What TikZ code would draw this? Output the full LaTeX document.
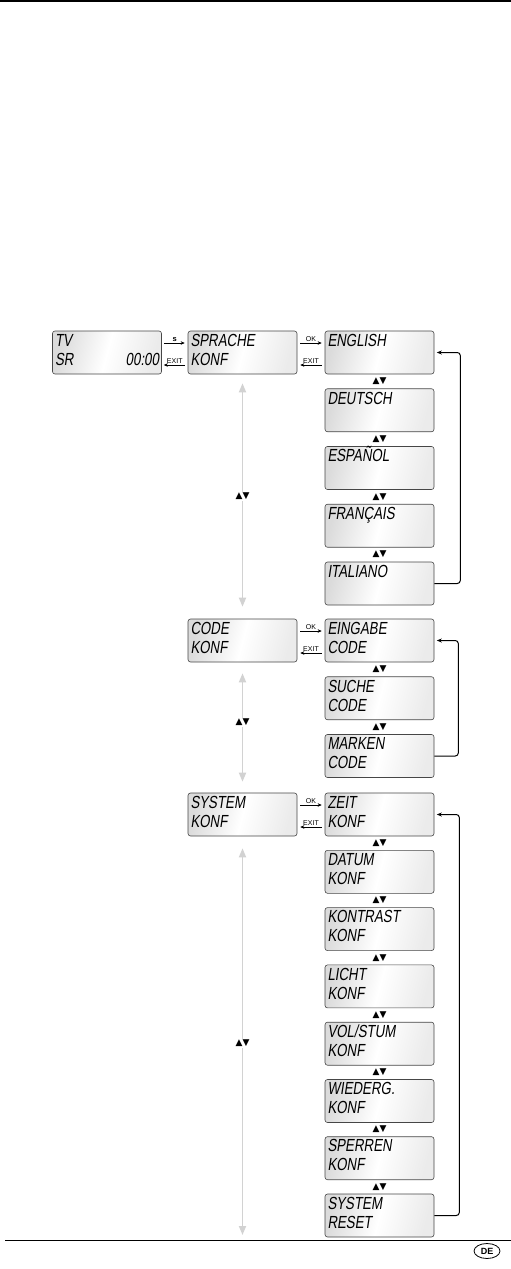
\documentclass[tikz,border=0pt]{standalone}
\usepackage{fontspec}
\usepackage{tikz}
\usetikzlibrary{shapes.geometric, arrows.meta, positioning, calc}
\newfontfamily\lcdfont[FakeStretch=0.76,FakeSlant=0.15]{Liberation Sans}
\newfontfamily\keyfont{Liberation Sans}
\newfontfamily\symfont{DejaVu Sans}

\begin{document}
\begin{tikzpicture}[x=1pt, y=-1pt,
    lcd/.style={rectangle, draw=gray!55!black, line width=0.6pt, rounded corners=2.5pt,
        left color=gray!28, right color=gray!16, middle color=white, shading angle=75,
        minimum width=109pt, minimum height=43pt, inner xsep=2.5pt, inner ysep=0pt,
        text width=104pt, align=left, text height=12.5pt, text depth=25pt,
        font=\lcdfont\fontsize{17.5}{19}\selectfont},
    navarrow/.style={-{Stealth[length=4pt,width=3.5pt]}, line width=0.6pt, draw=black},
    keylabel/.style={font=\keyfont\fontsize{7}{7}\selectfont, inner sep=0.8pt},
    scrollarrow/.style={{Triangle[length=9pt,width=7pt]}-{Triangle[length=9pt,width=7pt]}, line width=1.7pt, draw=gray!35},
    scrollmark/.style={font=\symfont\fontsize{9}{9}\selectfont, fill=white, inner sep=1pt},
    returnarrow/.style={-{Stealth[length=5pt,width=4pt]}, line width=1pt, rounded corners=3pt, shorten >=2.5pt}
]
    \useasboundingbox (0,0) rectangle (511,1269);

    % Page rules
    \draw[line width=2.2pt] (0,1.1) -- (511,1.1);
    \draw[line width=0.8pt] (5,1240) -- (511,1240);
    \node[draw, ellipse, line width=0.8pt, minimum width=26pt, minimum height=15pt, inner sep=0pt,
        font=\keyfont\bfseries\fontsize{9}{9}\selectfont] (lang) at (487,1251) {DE};

    % Start screen and language menu
    \node[lcd] (tv) at (107,352.5) {TV\\SR\hfill 00:00};
    \node[lcd] (sprache) at (242.5,352.5) {SPRACHE\\KONF};
    \node[lcd] (english) at (379.5,352.5) {ENGLISH};
    \node[lcd] (deutsch) at (379.5,410.25) {DEUTSCH};
    \node[lcd] (espanol) at (379.5,468) {ESPAÑOL};
    \node[lcd] (francais) at (379.5,525.75) {FRANÇAIS};
    \node[lcd] (italiano) at (379.5,583.5) {ITALIANO};

    % Code menu
    \node[lcd] (code) at (242.5,640.5) {CODE\\KONF};
    \node[lcd] (eingabe) at (379.5,640.5) {EINGABE\\CODE};
    \node[lcd] (suche) at (379.5,698.25) {SUCHE\\CODE};
    \node[lcd] (marken) at (379.5,756) {MARKEN\\CODE};

    % System menu
    \node[lcd] (system) at (242.5,814.5) {SYSTEM\\KONF};
    \node[lcd] (zeit) at (379.5,814.5) {ZEIT\\KONF};
    \node[lcd] (datum) at (379.5,871.8) {DATUM\\KONF};
    \node[lcd] (kontrast) at (379.5,929.1) {KONTRAST\\KONF};
    \node[lcd] (licht) at (379.5,986.4) {LICHT\\KONF};
    \node[lcd] (volstum) at (379.5,1043.7) {VOL/STUM\\KONF};
    \node[lcd] (wiederg) at (379.5,1101) {WIEDERG.\\KONF};
    \node[lcd] (sperren) at (379.5,1158.2) {SPERREN\\KONF};
    \node[lcd] (reset) at (379.5,1215.5) {SYSTEM\\RESET};
    \coordinate (sysend) at (242.5,1238);

    % Key steps
    \draw[navarrow, shorten <=2pt, shorten >=3pt] ([yshift=9.5pt]tv.east) -- node[keylabel, above, font=\keyfont\bfseries\fontsize{7.5}{7.5}\selectfont] {s} ([yshift=9.5pt]sprache.west);
    \draw[navarrow, shorten <=3pt, shorten >=2pt] ([yshift=-12.5pt]sprache.west) -- node[keylabel, above] {EXIT} ([yshift=-12.5pt]tv.east);
    \draw[navarrow, shorten <=3pt, shorten >=3pt] ([yshift=9.5pt]sprache.east) -- node[keylabel, above] {OK} ([yshift=9.5pt]english.west);
    \draw[navarrow, shorten <=3pt, shorten >=3pt] ([yshift=-12.5pt]english.west) -- node[keylabel, above] {EXIT} ([yshift=-12.5pt]sprache.east);
    \draw[navarrow, shorten <=3pt, shorten >=3pt] ([yshift=9.5pt]code.east) -- node[keylabel, above] {OK} ([yshift=9.5pt]eingabe.west);
    \draw[navarrow, shorten <=3pt, shorten >=3pt] ([yshift=-12.5pt]eingabe.west) -- node[keylabel, above] {EXIT} ([yshift=-12.5pt]code.east);
    \draw[navarrow, shorten <=3pt, shorten >=3pt] ([yshift=9.5pt]system.east) -- node[keylabel, above] {OK} ([yshift=9.5pt]zeit.west);
    \draw[navarrow, shorten <=3pt, shorten >=3pt] ([yshift=-12.5pt]zeit.west) -- node[keylabel, above] {EXIT} ([yshift=-12.5pt]system.east);

    % Scrolling between menus
    \draw[scrollarrow, shorten <=9pt, shorten >=12pt] (sprache.south) -- node[scrollmark] {▲▼} (code.north);
    \draw[scrollarrow, shorten <=11pt, shorten >=11pt] (code.south) -- node[scrollmark, pos=0.46] {▲▼} (system.north);
    \draw[scrollarrow, shorten <=12pt, shorten >=3pt] (system.south) -- node[scrollmark, pos=0.515] {▲▼} (sysend);

    % Scrolling inside menus
    \path (english) -- node[scrollmark] {▲▼} (deutsch);
    \path (deutsch) -- node[scrollmark] {▲▼} (espanol);
    \path (espanol) -- node[scrollmark] {▲▼} (francais);
    \path (francais) -- node[scrollmark] {▲▼} (italiano);
    \path (eingabe) -- node[scrollmark] {▲▼} (suche);
    \path (suche) -- node[scrollmark] {▲▼} (marken);
    \path (zeit) -- node[scrollmark] {▲▼} (datum);
    \path (datum) -- node[scrollmark] {▲▼} (kontrast);
    \path (kontrast) -- node[scrollmark] {▲▼} (licht);
    \path (licht) -- node[scrollmark] {▲▼} (volstum);
    \path (volstum) -- node[scrollmark] {▲▼} (wiederg);
    \path (wiederg) -- node[scrollmark] {▲▼} (sperren);
    \path (sperren) -- node[scrollmark] {▲▼} (reset);

    % Wrap around
    \draw[returnarrow] (italiano.east) -- ++(26,0) |- (english.east);
    \draw[returnarrow] (marken.east) -- ++(24,0) |- (eingabe.east);
    \draw[returnarrow] (reset.east) -- ++(25,0) |- (zeit.east);

\end{tikzpicture}
\end{document}
